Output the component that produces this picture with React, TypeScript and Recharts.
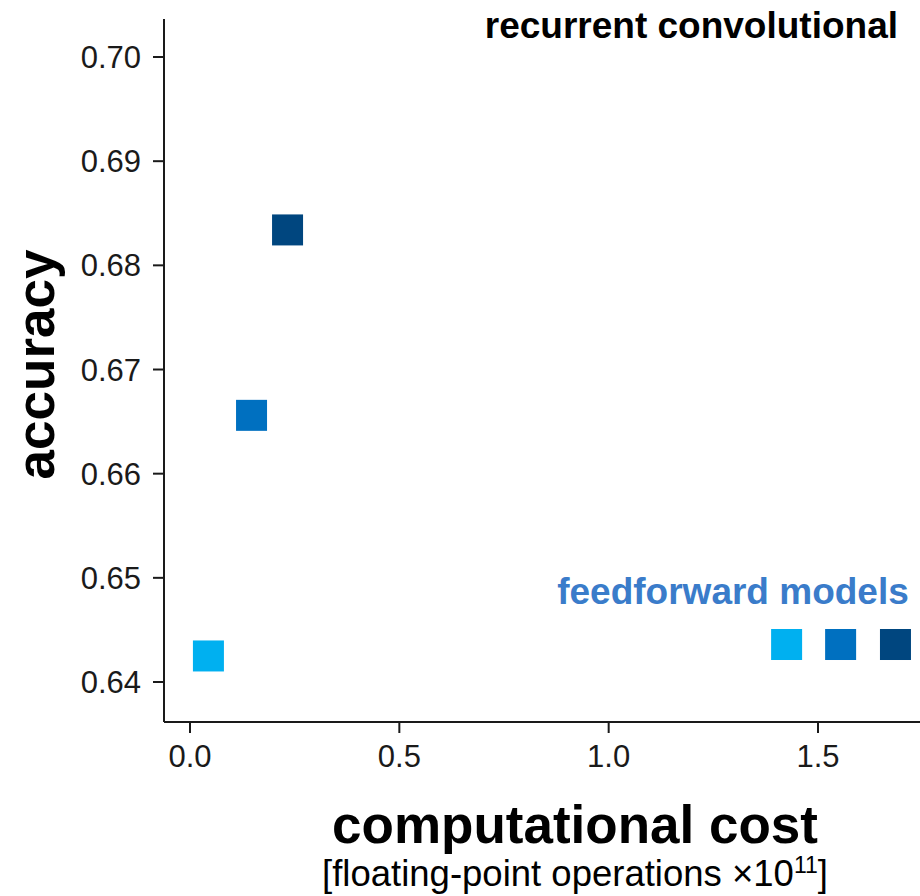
import React from "react";
import {
  ScatterChart,
  Scatter,
  XAxis,
  YAxis,
  Cell,
  Label,
  Customized,
} from "recharts";

// cost in units of 1e11 FLOPs, accuracy as a fraction
const recurrentCost = [0.044, 0.147, 0.233];
const recurrentAcc = [0.6425, 0.6656, 0.6834];
const feedforwardCost = [1.425, 1.554, 1.685];
const feedforwardAcc = [0.6436, 0.6436, 0.6436];

const xTicks = [0, 0.5, 1.0, 1.5];
const yTicks = [0.64, 0.65, 0.66, 0.67, 0.68, 0.69, 0.7];

// shallow -> deep
const depthColors = ["#00B0F0", "#0070C0", "#00467F"];

const recurrent = recurrentCost.map((cost, i) => ({ cost, acc: recurrentAcc[i] }));
const feedforward = feedforwardCost.map((cost, i) => ({ cost, acc: feedforwardAcc[i] }));

const FONT = "'Liberation Sans', Arial, Helvetica, sans-serif";
const INK = "#1a1a1a";
const SQ = 31;

const Square = (props: any) => {
  const { cx, cy, fill } = props;
  if (cx == null || cy == null) return null;
  return <rect x={cx - SQ / 2} y={cy - SQ / 2} width={SQ} height={SQ} fill={fill} />;
};

const YTitle = ({ viewBox }: any) => {
  const x = viewBox.x + 35;
  const y = viewBox.y + viewBox.height / 2 - 6;
  return (
    <text
      x={x}
      y={y}
      transform={`rotate(-90, ${x}, ${y})`}
      textAnchor="middle"
      dominantBaseline="central"
      fontFamily={FONT}
      fontWeight="bold"
      fontSize={53}
      fill="#000"
    >
      accuracy
    </text>
  );
};

const XTitle = ({ viewBox }: any) => {
  const cx = viewBox.x + viewBox.width / 2 + 33;
  return (
    <g fontFamily={FONT} textAnchor="middle">
      <text x={cx} y={viewBox.y + 121} fontWeight="bold" fontSize={53} fill="#000">
        computational cost
      </text>
      <text x={cx} y={viewBox.y + 164} fontSize={36.5} fill="#000">
        [floating-point operations ×10
        <tspan dy={-13} fontSize={23}>11</tspan>
        <tspan dy={13}>]</tspan>
      </text>
    </g>
  );
};

const Annotations = () => (
  <g fontFamily={FONT} fontWeight="bold" fontSize={37}>
    <text x={898} y={38} textAnchor="end" fill="#000">
      recurrent convolutional
    </text>
    <text x={733} y={604} textAnchor="middle" fill="#3A7CCA">
      feedforward models
    </text>
  </g>
);

export default function App() {
  return (
    <div style={{ position: "absolute", left: 0, top: 0, background: "#fff" }}>
      <ScatterChart
        width={920}
        height={896}
        margin={{ top: 19, right: 0, bottom: 0, left: 0 }}
        style={{ fontFamily: FONT }}
      >
        <XAxis
          type="number"
          dataKey="cost"
          domain={[-0.0621, 1.7436]}
          ticks={xTicks}
          allowDataOverflow
          height={174}
          tickSize={11}
          tickMargin={12}
          tickFormatter={(v: number) => v.toFixed(1)}
          tick={{ fontSize: 31, fill: INK, fontFamily: FONT }}
          axisLine={{ stroke: INK, strokeWidth: 2 }}
          tickLine={{ stroke: INK, strokeWidth: 2 }}
        >
          <Label content={<XTitle />} />
        </XAxis>
        <YAxis
          type="number"
          dataKey="acc"
          domain={[0.63616, 0.70365]}
          ticks={yTicks}
          allowDataOverflow
          width={164}
          tickSize={11}
          tickMargin={12}
          tickFormatter={(v: number) => v.toFixed(2)}
          tick={{ fontSize: 31, fill: INK, fontFamily: FONT }}
          axisLine={{ stroke: INK, strokeWidth: 2 }}
          tickLine={{ stroke: INK, strokeWidth: 2 }}
        >
          <Label content={<YTitle />} />
        </YAxis>
        <Scatter data={recurrent} shape={<Square />} isAnimationActive={false}>
          {recurrent.map((_, i) => (
            <Cell key={`r${i}`} fill={depthColors[i]} />
          ))}
        </Scatter>
        <Scatter data={feedforward} shape={<Square />} isAnimationActive={false}>
          {feedforward.map((_, i) => (
            <Cell key={`f${i}`} fill={depthColors[i]} />
          ))}
        </Scatter>
        <Customized component={<Annotations />} />
      </ScatterChart>
    </div>
  );
}
